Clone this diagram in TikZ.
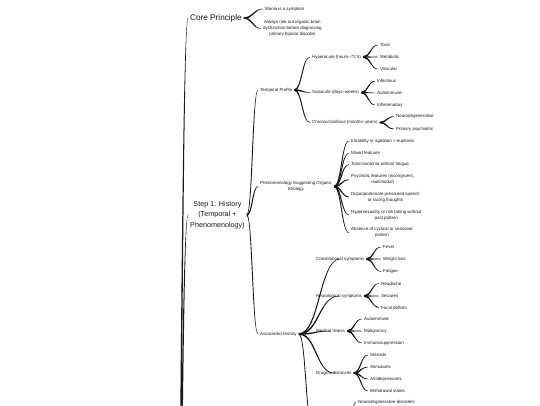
\documentclass[tikz,border=0pt]{standalone}
\usepackage{fontspec}
\setmainfont{Liberation Sans}
\usetikzlibrary{calc}
\newcommand\fsm{\fontsize{4.4}{6}\selectfont}
\newcommand\fbg{\fontsize{7.2}{10.5}\selectfont}
\newcommand\fcore{\fontsize{8.2}{9.5}\selectfont}
\tikzset{
  lbl/.style={anchor=west, inner xsep=2pt, inner ysep=0.5pt, font=\fsm, text=black!90, align=center},
  toplbl/.style={lbl, font=\fbg},
  edgefill/.style={fill=black!90}
}
% tapered connector: from #1 to #2, width #3 at start, #4 at end
\newcommand\tedge[4]{%
  \fill[edgefill] let \p1=(#1), \p2=(#2),
    \n1={0.5*(\x1+\x2)},
    \n2={ifthenelse(\y2<\y1,1,-1)},
    \n3={0.25*(#3+#4)*\n2} in
    (\x1,{\y1+0.5*#3}) .. controls ({\n1+\n3},{\y1+0.5*#3}) and ({\n1+\n3},{\y2+0.5*#4}) .. (\x2,{\y2+0.5*#4})
    -- (\x2,{\y2-0.5*#4}) .. controls ({\n1-\n3},{\y2-0.5*#4}) and ({\n1-\n3},{\y1-0.5*#3}) .. (\x1,{\y1-0.5*#3}) -- cycle;}
\begin{document}
\begin{tikzpicture}[x=1pt,y=-1pt]
\useasboundingbox (0,0) rectangle (540,405);
\fill[white] (0,0) rectangle (540,405);
\clip (0,0) rectangle (540,405);

\coordinate (root) at (174,800);

% level 1
\node[toplbl, font=\fcore] (core) at (188,18) {Core Principle};
\node[toplbl] (step) at (188,215) {Step 1: History\\(Temporal +\\Phenomenology)};

% core children
\node[lbl] (mania) at (263,9) {Mania is a symptom};
\node[lbl] (always) at (261,28.5) {Always rule out organic brain\\dysfunction before diagnosing\\primary bipolar disorder};

% step 1 children
\node[lbl] (temp) at (258,90) {Temporal Profile};
\node[lbl] (pheno) at (258,186.5) {Phenomenology Suggesting Organic\\Etiology};
\node[lbl] (assoc) at (258,334) {Associated History};

% temporal
\node[lbl] (hyper) at (310,57) {Hyperacute (hours–72 h)};
\node[lbl] (sub) at (310,92.5) {Subacute (days–weeks)};
\node[lbl] (chron) at (310,122.5) {Chronic/insidious (months–years)};
\node[lbl] (toxic) at (378,45) {Toxic};
\node[lbl] (metab) at (378,57) {Metabolic};
\node[lbl] (vasc) at (378,69) {Vascular};
\node[lbl] (infect) at (375,81) {Infectious};
\node[lbl] (autoa) at (375,93) {Autoimmune};
\node[lbl] (inflam) at (375,105) {Inflammatory};
\node[lbl] (neurod) at (394,116.5) {Neurodegenerative};
\node[lbl] (primp) at (394,129) {Primary psychiatric};

% phenomenology
\node[lbl] (irrit) at (349,141) {Irritability or agitation > euphoria};
\node[lbl] (mixed) at (349,153) {Mixed features};
\node[lbl] (insom) at (349,164.5) {Total insomnia without fatigue};
\node[lbl] (psych) at (349,179.7) {Psychotic features (incongruent,\\multimodal)};
\node[lbl] (dispro) at (349,197) {Disproportionate pressured speech\\or racing thoughts};
\node[lbl] (hsex) at (349,215) {Hypersexuality or risk taking without\\past pattern};
\node[lbl] (absence) at (349,232.7) {Absence of cyclical or seasonal\\pattern};

% associated history
\node[lbl] (const) at (314,259) {Constitutional symptoms};
\node[lbl] (neuro) at (314,296) {Neurological symptoms};
\node[lbl] (medic) at (314,331) {Medical illness};
\node[lbl] (drugs) at (314,373) {Drugs/substances};
\coordinate (assocnext) at (313,430);
\coordinate (ndparent) at (347,432);

\node[lbl] (fever) at (381,247) {Fever};
\node[lbl] (wloss) at (381,259) {Weight loss};
\node[lbl] (fatig) at (381,271.5) {Fatigue};
\node[lbl] (head) at (379,283.5) {Headache};
\node[lbl] (seiz) at (379,296) {Seizures};
\node[lbl] (focal) at (379,307.5) {Focal deficits};
\node[lbl] (autob) at (362,319) {Autoimmune};
\node[lbl] (malig) at (362,331) {Malignancy};
\node[lbl] (immuno) at (362,343) {Immunosuppression};
\node[lbl] (ster) at (368,355) {Steroids};
\node[lbl] (stim) at (368,367) {Stimulants};
\node[lbl] (antid) at (368,379) {Antidepressants};
\node[lbl] (withd) at (368,391) {Withdrawal states};
\node[lbl] (nddis) at (356,402) {Neurodegenerative disorders};

% connectors
\tedge{root}{core.west}{3pt}{0.7pt}
\tedge{root}{step.west}{3pt}{0.7pt}

\foreach \c in {mania,always} {\tedge{core.east}{\c.west}{1.6pt}{0.5pt}}
\foreach \c in {temp,pheno,assoc} {\tedge{step.east}{\c.west}{1.8pt}{0.55pt}}
\foreach \c in {hyper,sub,chron} {\tedge{temp.east}{\c.west}{1.6pt}{0.5pt}}
\foreach \c in {toxic,metab,vasc} {\tedge{hyper.east}{\c.west}{1.5pt}{0.45pt}}
\foreach \c in {infect,autoa,inflam} {\tedge{sub.east}{\c.west}{1.5pt}{0.45pt}}
\foreach \c in {neurod,primp} {\tedge{chron.east}{\c.west}{1.5pt}{0.45pt}}
\foreach \c in {irrit,mixed,insom,psych,dispro,hsex,absence} {\tedge{pheno.east}{\c.west}{1.6pt}{0.5pt}}
\foreach \c in {const,neuro,medic,drugs,assocnext} {\tedge{assoc.east}{\c}{1.6pt}{0.5pt}}
\foreach \c in {fever,wloss,fatig} {\tedge{const.east}{\c.west}{1.5pt}{0.45pt}}
\foreach \c in {head,seiz,focal} {\tedge{neuro.east}{\c.west}{1.5pt}{0.45pt}}
\foreach \c in {autob,malig,immuno} {\tedge{medic.east}{\c.west}{1.5pt}{0.45pt}}
\foreach \c in {ster,stim,antid,withd} {\tedge{drugs.east}{\c.west}{1.5pt}{0.45pt}}
\tedge{ndparent}{nddis.west}{1.5pt}{0.45pt}
\end{tikzpicture}
\end{document}
